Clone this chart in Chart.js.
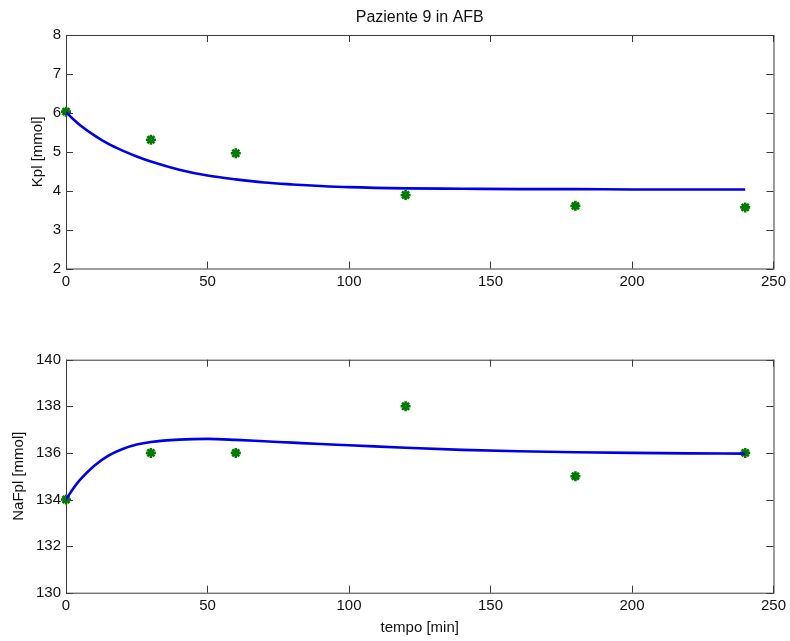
<!DOCTYPE html>
<html>
<head>
<meta charset="utf-8">
<script src="https://cdn.jsdelivr.net/npm/chart.js@4/dist/chart.umd.min.js"></script>
<style>
    body { margin: 0; background: #fff; }
    .panel { position: absolute; left: 0; width: 790px; }
</style>
</head>
<body>
<div class="panel" style="top:0;height:300px"><canvas id="kplChart" width="790" height="300"></canvas></div>
<div class="panel" style="top:300px;height:341px"><canvas id="nafplChart" width="790" height="341"></canvas></div>
<script>
// measured samples (green stars)
const timeMin = [0, 30, 60, 120, 180, 240];
const kplMeasured = [6.03, 5.31, 4.96, 3.89, 3.61, 3.57];
const nafplMeasured = [134, 136, 136, 138, 135, 136];

// model curves (blue lines)
const fitTime = [0, 2.5, 5, 10, 15, 20, 25, 30, 40, 50, 60, 70, 80, 90, 100, 120, 140, 160, 180, 200, 220, 240];
const kplFit = [6.02, 5.84, 5.68, 5.42, 5.2, 5.03, 4.88, 4.75, 4.54, 4.39, 4.29, 4.21, 4.16, 4.12, 4.09, 4.06, 4.05, 4.04, 4.04, 4.03, 4.03, 4.03];
const nafplFit = [134.0, 134.46, 134.85, 135.45, 135.88, 136.17, 136.36, 136.47, 136.57, 136.6, 136.56, 136.5, 136.44, 136.38, 136.33, 136.22, 136.13, 136.07, 136.03, 136.0, 135.98, 135.97];

const xTicks = [0, 50, 100, 150, 200, 250];
const kplTicks = [2, 3, 4, 5, 6, 7, 8];
const nafplTicks = [130, 132, 134, 136, 138, 140];

const fontFamily = '"Liberation Sans", Arial, sans-serif';
const textColor = '#111';
const frameColor = '#3a3a3a';

const toPoints = (xs, ys) => xs.map((x, i) => ({ x: x, y: ys[i] }));

// MATLAB style box with inward ticks on all four sides
const matlabBox = {
    id: 'matlabBox',
    beforeDatasetsDraw(chart) {
        const { ctx, chartArea: a, scales } = chart;
        const len = 7;
        ctx.save();
        ctx.strokeStyle = frameColor;
        ctx.lineWidth = 1;
        ctx.strokeRect(a.left + 0.5, a.top + 0.5, a.right - a.left, a.bottom - a.top);
        ctx.beginPath();
        scales.x.ticks.forEach((t) => {
            const px = Math.round(scales.x.getPixelForValue(t.value)) + 0.5;
            ctx.moveTo(px, a.bottom);
            ctx.lineTo(px, a.bottom - len);
            ctx.moveTo(px, a.top);
            ctx.lineTo(px, a.top + len);
        });
        scales.y.ticks.forEach((t) => {
            const py = Math.round(scales.y.getPixelForValue(t.value)) + 0.5;
            ctx.moveTo(a.left, py);
            ctx.lineTo(a.left + len, py);
            ctx.moveTo(a.right, py);
            ctx.lineTo(a.right - len, py);
        });
        ctx.stroke();
        ctx.restore();
    }
};

const makePanel = (canvasId, opts) => {
    const ctx = document.getElementById(canvasId).getContext('2d');
    return new Chart(ctx, {
        type: 'scatter',
        data: {
            datasets: [
                {
                    type: 'line',
                    data: toPoints(fitTime, opts.fit),
                    borderColor: '#0000e8',
                    borderWidth: 2.6,
                    pointRadius: 0,
                    fill: false,
                    cubicInterpolationMode: 'monotone',
                },
                {
                    data: toPoints(timeMin, opts.measured),
                    pointStyle: 'star',
                    pointRadius: 5,
                    borderWidth: 2.6,
                    borderColor: '#007a00',
                    backgroundColor: '#007a00',
                    clip: false,
                },
            ],
        },
        options: {
            responsive: false,
            animation: false,
            layout: { padding: { top: opts.padTop, right: 16, left: 0, bottom: 0 } },
            plugins: {
                legend: { display: false },
                tooltip: { enabled: false },
                title: {
                    display: !!opts.title,
                    text: opts.title,
                    fullSize: false,
                    color: textColor,
                    font: { family: fontFamily, size: 16, weight: 'normal' },
                    padding: { top: 8, bottom: 7.8 },
                },
            },
            scales: {
                x: {
                    type: 'linear',
                    min: 0,
                    max: 250,
                    grid: { display: false, drawTicks: false },
                    border: { display: false },
                    afterBuildTicks: (s) => { s.ticks = xTicks.map((v) => ({ value: v })); },
                    ticks: { color: textColor, padding: 4, font: { family: fontFamily, size: 15 } },
                    title: {
                        display: !!opts.xTitle,
                        text: opts.xTitle,
                        color: textColor,
                        font: { family: fontFamily, size: 15 },
                        padding: { top: 0, bottom: 4 },
                    },
                    afterFit: (s) => { s.height = opts.xHeight; },
                },
                y: {
                    type: 'linear',
                    min: opts.yTicks[0],
                    max: opts.yTicks[opts.yTicks.length - 1],
                    grid: { display: false, drawTicks: false },
                    border: { display: false },
                    afterBuildTicks: (s) => { s.ticks = opts.yTicks.map((v) => ({ value: v })); },
                    ticks: { color: textColor, padding: 5, font: { family: fontFamily, size: 15 } },
                    title: {
                        display: true,
                        text: opts.yTitle,
                        color: textColor,
                        font: { family: fontFamily, size: 15 },
                        padding: { top: opts.yTitlePad, bottom: 0 },
                    },
                    afterFit: (s) => { s.width = 66; },
                },
            },
        },
        plugins: [matlabBox],
    });
};

makePanel('kplChart', {
    fit: kplFit,
    measured: kplMeasured,
    yTicks: kplTicks,
    yTitle: 'Kpl [mmol]',
    yTitlePad: 29,
    title: 'Paziente 9 in AFB',
    padTop: 0,
    xHeight: 31.5,
});

makePanel('nafplChart', {
    fit: nafplFit,
    measured: nafplMeasured,
    yTicks: nafplTicks,
    yTitle: 'NaFpl [mmol]',
    yTitlePad: 10,
    xTitle: 'tempo [min]',
    padTop: 59.7,
    xHeight: 48.3,
});
</script>
</body>
</html>
